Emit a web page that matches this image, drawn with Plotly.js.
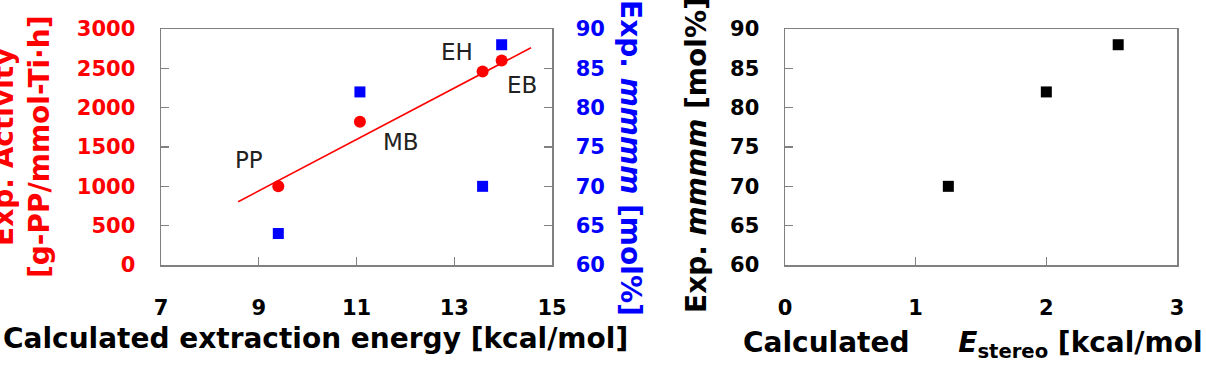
<!DOCTYPE html>
<html>
<head>
<meta charset="utf-8">
<script src="https://cdn.plot.ly/plotly-3.0.1.min.js"></script>
<style>
  html, body { margin: 0; padding: 0; background: #ffffff; }
  #chart { width: 1206px; height: 369px; }
</style>
</head>
<body>
<div id="chart"></div>
<script>
// ---- Data ----
const solvents = ['PP', 'MB', 'EH', 'EB'];
const extractionEnergy = [9.4, 11.07, 13.58, 13.97];   // kcal/mol
const activity = [1000, 1820, 2460, 2600];             // g-PP/mmol-Ti·h
const mmmmLeft = [64, 82, 70, 88];                     // mol%
const trendX = [8.58, 14.57];
const trendY = [805, 2762];

const eStereo = [1.25, 2.0, 2.55];                     // kcal/mol
const mmmmRight = [70, 82, 88];                        // mol%

const leftXTicks = [7, 9, 11, 13, 15];
const activityTicks = [0, 500, 1000, 1500, 2000, 2500, 3000];
const mmmmTicks = [60, 65, 70, 75, 80, 85, 90];
const rightXTicks = [0, 1, 2, 3];

// ---- Styling helpers ----
const W = 1206, H = 369;
const FONT = 'DejaVu Sans';
const FRAME = '#808080';
const px = v => v / W;
const py = v => 1 - v / H;

const traces = [
  { x: trendX, y: trendY, xaxis: 'x', yaxis: 'y', mode: 'lines',
    line: { color: '#ff0000', width: 1.6 }, hoverinfo: 'skip' },
  { x: extractionEnergy, y: activity, xaxis: 'x', yaxis: 'y', mode: 'markers',
    marker: { color: '#ff0000', size: 12, symbol: 'circle' } },
  { x: extractionEnergy, y: mmmmLeft, xaxis: 'x', yaxis: 'y2', mode: 'markers',
    marker: { color: '#0000ff', size: 11, symbol: 'square' } },
  { x: eStereo, y: mmmmRight, xaxis: 'x2', yaxis: 'y3', mode: 'markers',
    marker: { color: '#000000', size: 11, symbol: 'square' } }
];

const axisBase = {
  ticks: 'inside', ticklen: 8, tickwidth: 1.2, tickcolor: FRAME,
  showline: true, linecolor: FRAME, linewidth: 1.5,
  showgrid: false, zeroline: false, fixedrange: true
};

const labelShift = { PP: [-29, 26], MB: [41, -20], EH: [-26, 19], EB: [20, -25] };

const annotations = solvents.map((s, i) => ({
  x: extractionEnergy[i], y: activity[i], xref: 'x', yref: 'y',
  text: s, showarrow: false, xshift: labelShift[s][0], yshift: labelShift[s][1],
  font: { family: FONT, size: 23, color: '#222222' }
}));

annotations.push(
  { xref: 'paper', yref: 'paper', x: px(316), y: py(338), xanchor: 'center', yanchor: 'middle',
    text: '<b>Calculated extraction energy [kcal/mol]</b>', showarrow: false,
    font: { family: FONT, size: 28, color: '#000000' } },
  { xref: 'paper', yref: 'paper', x: px(21), y: py(147), xanchor: 'center', yanchor: 'middle',
    text: '<b>Exp. Activity<br>[g-PP/mmol-Ti·h]</b>', showarrow: false, textangle: -90,
    font: { family: FONT, size: 28, color: '#ff0000' } },
  { xref: 'paper', yref: 'paper', x: px(631), y: py(158), xanchor: 'center', yanchor: 'middle',
    text: '<b>Exp. <i>mmmm</i> [mol%]</b>', showarrow: false, textangle: 90,
    font: { family: FONT, size: 28, color: '#0000ff' } },
  { xref: 'paper', yref: 'paper', x: px(697), y: py(155), xanchor: 'center', yanchor: 'middle',
    text: '<b>Exp. <i>mmmm</i> [mol%]</b>', showarrow: false, textangle: -90,
    font: { family: FONT, size: 28, color: '#000000' } },
  { xref: 'paper', yref: 'paper', x: px(741), y: py(344), xanchor: 'left', yanchor: 'middle',
    text: '<b>Calculated\u00A0\u00A0\u00A0\u00A0\u00A0<i>E</i><sub>stereo</sub> [kcal/mol</b>',
    showarrow: false, font: { family: FONT, size: 28, color: '#000000' } }
);

const tickFont = c => ({ family: FONT, size: 21, color: c, weight: 'bold' });

const layout = {
  width: W, height: H,
  margin: { l: 0, r: 0, t: 0, b: 0, pad: 0 },
  paper_bgcolor: '#ffffff', plot_bgcolor: '#ffffff',
  showlegend: false,
  xaxis: Object.assign({}, axisBase, {
    domain: [px(161), px(552)], anchor: 'y', range: [7, 15],
    tickvals: leftXTicks, mirror: true, tickfont: tickFont('#000000'), ticklabelstandoff: 23
  }),
  yaxis: Object.assign({}, axisBase, {
    domain: [1 - 265 / H, 1 - 29 / H], anchor: 'x', range: [0, 3000],
    tickvals: activityTicks, mirror: true, tickfont: tickFont('#ff0000'), ticklabelstandoff: 20
  }),
  yaxis2: Object.assign({}, axisBase, {
    overlaying: 'y', side: 'right', anchor: 'x', range: [60, 90],
    tickvals: mmmmTicks, tickfont: tickFont('#0000ff'), ticklabelstandoff: 18
  }),
  xaxis2: Object.assign({}, axisBase, {
    domain: [px(785), px(1177)], anchor: 'y3', range: [0, 3],
    tickvals: rightXTicks, mirror: true, tickfont: tickFont('#000000'), ticklabelstandoff: 23
  }),
  yaxis3: Object.assign({}, axisBase, {
    domain: [1 - 265 / H, 1 - 29 / H], anchor: 'x2', range: [60, 90],
    tickvals: mmmmTicks, mirror: true, tickfont: tickFont('#000000'), ticklabelstandoff: 20
  }),
  annotations: annotations
};

Plotly.newPlot('chart', traces, layout, { displayModeBar: false, staticPlot: true });
</script>
</body>
</html>
